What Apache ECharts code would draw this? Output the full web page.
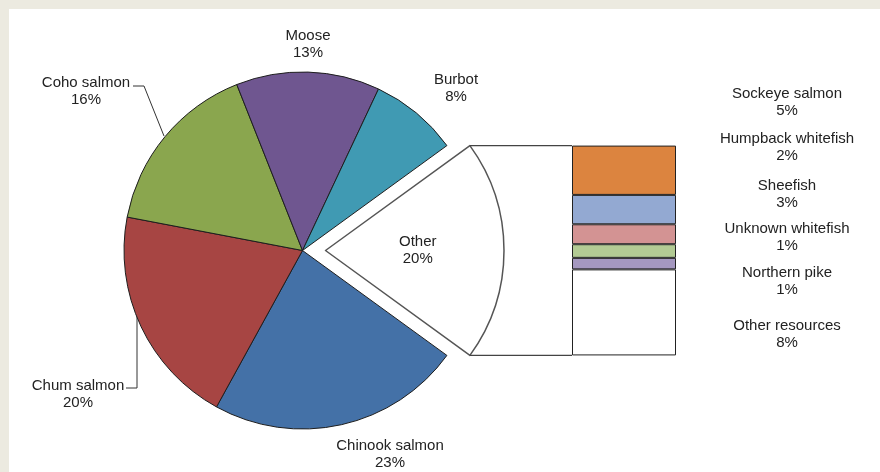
<!DOCTYPE html>
<html>
<head>
<meta charset="utf-8">
<script src="https://cdn.jsdelivr.net/npm/echarts@6/dist/echarts.min.js"></script>
<style>
html,body{margin:0;padding:0;background:#fff;}
#chart{width:880px;height:472px;}
</style>
</head>
<body>
<div id="chart"></div>
<script>
// ---- data ----
const pieNames = ['Other', 'Chinook salmon', 'Chum salmon', 'Coho salmon', 'Moose', 'Burbot'];
const pieValues = [20, 23, 20, 16, 13, 8];
const pieLabels = ['20%', '23%', '20%', '16%', '13%', '8%'];

const barNames = ['Sockeye salmon', 'Humpback whitefish', 'Sheefish', 'Unknown whitefish', 'Northern pike', 'Other resources'];
const barValues = [4.7, 2.8, 1.9, 1.3, 1.1, 8.2];
const barLabels = ['5%', '2%', '3%', '1%', '1%', '8%'];

// ---- styles / layout ----
const pieColors = ['#ffffff', '#4471a7', '#a74543', '#8aa64e', '#6f5690', '#409ab3'];
const barColors = ['#dc843f', '#93a9d2', '#d39393', '#b3cb94', '#a598c0', '#ffffff'];
const font = { fontFamily: 'Liberation Sans, Arial, sans-serif', fontSize: 15, lineHeight: 17, color: '#222' };

const cx = 302.5, cy = 250.5, R = 178.5, off = 23;
const otherFrac = pieValues[0] / pieValues.reduce((a, b) => a + b, 0);
const half = otherFrac * Math.PI; // half angle of Other slice
const cornerX = cx + off + R * Math.cos(half);
const topY = cy - R * Math.sin(half);
const botY = cy + R * Math.sin(half);
const barLeft = 572, barWidth = 104;

const pieLabelPos = [null, [390, 454], [78, 394], [86, 91], [308, 44], [456, 88]];
const pieLeader = {
  2: [[126, 388], [137, 388], [137, 316]],
  3: [[133, 86], [144, 86], [164, 136]]
};
const barLabelX = 787;
const barLabelY = [102, 147, 194, 237, 281, 334];

const chart = echarts.init(document.getElementById('chart'), null, { renderer: 'canvas' });

const series = [{
  type: 'pie',
  center: [cx, cy],
  radius: R,
  startAngle: otherFrac * 180,
  clockwise: true,
  selectedMode: 'single',
  selectedOffset: off,
  avoidLabelOverlap: false,
  animation: false,
  emphasis: { disabled: true },
  label: Object.assign({ show: true, position: 'outside', align: 'center',
    formatter: p => p.name + '\n' + pieLabels[p.dataIndex] }, font),
  labelLine: { show: true, length: 5, length2: 5, smooth: false, lineStyle: { color: '#333', width: 1 } },
  labelLayout: function (p) {
    const pos = pieLabelPos[p.dataIndex];
    if (!pos) return {};
    const r = { x: pos[0], y: pos[1], align: 'center', verticalAlign: 'middle' };
    if (pieLeader[p.dataIndex]) r.labelLinePoints = pieLeader[p.dataIndex];
    return r;
  },
  data: pieNames.map((n, i) => ({
    name: n,
    value: pieValues[i],
    selected: i === 0,
    itemStyle: i === 0
      ? { color: pieColors[i], borderColor: '#555', borderWidth: 1.5 }
      : { color: pieColors[i], borderColor: '#1e1e1e', borderWidth: 1 },
    label: i === 0 ? { position: 'inside' } : {},
    labelLine: { show: !!pieLeader[i] }
  }))
}];

barNames.forEach((n, i) => {
  series.push({
    type: 'bar',
    name: n,
    stack: 'other',
    barWidth: '100%',
    animation: false,
    emphasis: { disabled: true },
    itemStyle: { color: barColors[i], borderColor: '#222', borderWidth: 1 },
    label: Object.assign({ show: true, position: 'inside', align: 'center',
      formatter: () => n + '\n' + barLabels[i] }, font),
    labelLayout: function () {
      return { x: barLabelX, y: barLabelY[i], align: 'center', verticalAlign: 'middle' };
    },
    data: [barValues[i]]
  });
});

chart.setOption({
  backgroundColor: '#ffffff',
  animation: false,
  grid: { left: barLeft, top: topY, width: barWidth, height: botY - topY },
  xAxis: { type: 'category', data: ['Other'], show: false },
  yAxis: { type: 'value', min: 0, max: barValues.reduce((a, b) => a + b, 0), inverse: true, show: false },
  graphic: [
    { type: 'rect', shape: { x: 0, y: 0, width: 880, height: 9 }, style: { fill: '#ecEAE0' }, z: 100 },
    { type: 'rect', shape: { x: 0, y: 0, width: 9, height: 472 }, style: { fill: '#ecEAE0' }, z: 100 },
    { type: 'line', shape: { x1: cornerX, y1: topY, x2: barLeft, y2: topY }, style: { stroke: '#444', lineWidth: 1.2 }, z: 50 },
    { type: 'line', shape: { x1: cornerX, y1: botY, x2: barLeft, y2: botY }, style: { stroke: '#444', lineWidth: 1.2 }, z: 50 }
  ],
  series: series
});
</script>
</body>
</html>
